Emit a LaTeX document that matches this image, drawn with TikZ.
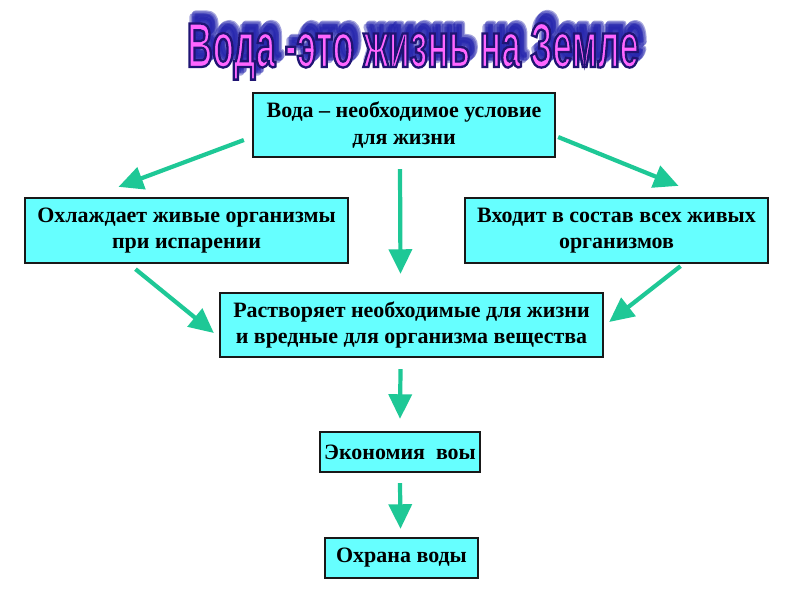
\documentclass[tikz,border=0pt]{standalone}
\usepackage{fontspec}
\setmainfont{Liberation Serif}
\newfontfamily\titlefont[FakeStretch=0.555]{Liberation Sans}
\usetikzlibrary{arrows.meta}

\definecolor{boxcyan}{RGB}{102,255,255}
\definecolor{arrowgreen}{RGB}{30,200,150}
\definecolor{titlepink}{RGB}{255,102,255}
\definecolor{shadowblue}{RGB}{30,30,170}

\newdimen\pxu
\pxu=0.02cm

% contorno del titolo (modo di rendering fill+stroke)
\newcommand{\outlinedtext}[1]{%
    \special{pdf:literal direct 0.12 0.08 0.45 RG 1.3 w 2 Tr}#1\special{pdf:literal direct 0 Tr}}
\newcommand{\shadowtext}[1]{%
    \special{pdf:literal direct 0.12 0.12 0.67 RG 3.5 w 1 j 2 Tr}#1\special{pdf:literal direct 0 Tr}}

\tikzset{
    infobox/.style={draw=black!90, line width=1.3pt, fill=boxcyan, align=center,
        font=\bfseries\fontsize{12.5}{15}\selectfont, inner sep=0pt},
    greenarrow/.style={draw=arrowgreen, line width=2.4pt,
        -{Triangle[length=14pt, width=13pt]}},
    titletext/.style={font=\titlefont\bfseries\fontsize{36}{36}\selectfont,
        inner sep=0pt, anchor=base}
}

\begin{document}
\begin{tikzpicture}[x=0.02cm, y=-0.02cm]

    \useasboundingbox (0,0) rectangle (800,600);

    % --- Titolo con ombra sfumata ---
    \foreach \dx/\dy [count=\i] in {5/-9, 3/-7, 6/-10} {
        \node[titletext, text=shadowblue, opacity=0.4] (shadow\i) at (413+\dx, 67+\dy)
            {\shadowtext{Вода -это жизнь на Земле}};
    }
    \node[titletext, text=titlepink] (title) at (413, 67)
        {\outlinedtext{Вода -это жизнь на Земле}};

    % --- Blocchi ---
    \node[infobox, minimum width=302\pxu, minimum height=64\pxu] (water) at (404, 125)
        {Вода – необходимое условие\\для жизни};
    \node[infobox, minimum width=323\pxu, minimum height=65\pxu] (cools) at (186.5, 230.5)
        {Охлаждает живые организмы\\при испарении};
    \node[infobox, minimum width=303\pxu, minimum height=65\pxu] (part) at (616.5, 230.5)
        {Входит в состав всех живых\\организмов};
    \node[infobox, minimum width=383\pxu, minimum height=64\pxu] (solvent) at (411.5, 325)
        {Растворяет необходимые для жизни\\и вредные для организма вещества};
    \node[infobox, minimum width=160\pxu, minimum height=40\pxu] (saving) at (400, 452)
        {Экономия~~воы};
    \node[infobox, minimum width=153\pxu, minimum height=40\pxu] (protect) at (401.5, 558)
        {Охрана воды};

    % --- Frecce ---
    \draw[greenarrow] ([shift={(-8,15)}]water.west) -- ([shift={(-68,-10)}]cools.north);
    \draw[greenarrow] ([shift={(-4,11)}]water.south) -- ([shift={(-11,-18)}]solvent.north);
    \draw[greenarrow] ([shift={(2,12)}]water.east) -- ([shift={(62,-11)}]part.north);
    \draw[greenarrow] ([shift={(-51,5)}]cools.south) -- ([shift={(-5,8)}]solvent.west);
    \draw[greenarrow] ([shift={(64,2)}]part.south) -- ([shift={(5,-3)}]solvent.east);
    \draw[greenarrow] ([shift={(-11,11)}]solvent.south) -- ([shift={(0,-12)}]saving.north);
    \draw[greenarrow] ([shift={(0,10)}]saving.south) -- ([shift={(-1,-8)}]protect.north);

\end{tikzpicture}
\end{document}
